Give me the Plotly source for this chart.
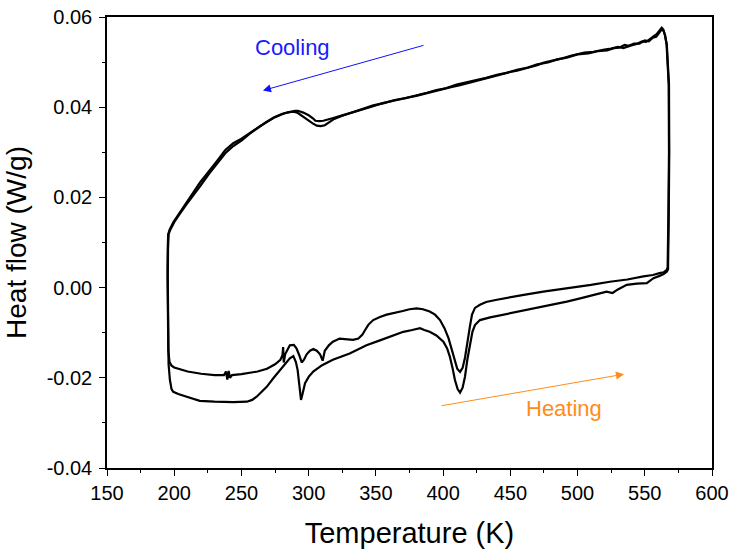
import plotly.graph_objects as go

# ---------------- data ----------------
# Cycle 1 heating (upper heating branch)
heat1_T = [195.0, 195.1, 195.6, 196.5, 198, 200, 205, 210, 220, 230, 237, 238.5, 239.5, 240.5,
           241.5, 243, 250, 256, 262, 269, 275, 279, 280.5, 281, 281.5, 282.5, 286, 289, 291,
           293, 294.8, 296.5, 298.5, 301, 303.5, 306, 308.5, 310.4, 312, 315, 318, 323, 328,
           333, 337, 340, 342, 344.5, 348, 353, 358, 363, 370, 375, 380.4, 385, 390, 394,
           397.7, 401, 404, 406.5, 408.8, 410.5, 412.6, 414.5, 416.3, 418, 420, 421.5, 423.7,
           427.4, 432, 440, 449.8, 460, 474.5, 487, 499.4, 510, 524, 537, 549, 556, 561, 564,
           566.3]
heat1_Q = [0.004, -0.008, -0.014, -0.0165, -0.0173, -0.0177, -0.0182, -0.0186, -0.0191, -0.0194,
           -0.0194, -0.0186, -0.0204, -0.0185, -0.0200, -0.0194, -0.0192, -0.0189, -0.0186,
           -0.0180, -0.0170, -0.0160, -0.0150, -0.0132, -0.0166, -0.0148, -0.0128, -0.0127,
           -0.0135, -0.0150, -0.0166, -0.0160, -0.0148, -0.0140, -0.0136, -0.0140, -0.0148,
           -0.0162, -0.0140, -0.0128, -0.0120, -0.0113, -0.0115, -0.0116, -0.0113, -0.0104,
           -0.0094, -0.0082, -0.0072, -0.0065, -0.0060, -0.0057, -0.0052, -0.0048, -0.0046,
           -0.0048, -0.0053, -0.0060, -0.0072, -0.0090, -0.0112, -0.0138, -0.0162, -0.0180,
           -0.0187, -0.0178, -0.0155, -0.0120, -0.0085, -0.0060, -0.0045, -0.0038, -0.0032,
           -0.0027, -0.0021, -0.0016, -0.0009, -0.0004, 0.0002, 0.0006, 0.0013, 0.0018, 0.0025,
           0.0028, 0.0032, 0.0034, 0.0039]

# Cycle 1 cooling (right edge upwards, then cooling branch to low T)
cool1_T = [567.0, 567.5, 568.0, 567.8, 567.2, 566.2, 565.0, 563.8, 562.6, 561.5, 560, 558.8, 557,
           555, 553.8, 551, 548, 544, 540, 536.6, 534, 530, 525, 520, 511.7, 505, 500, 495, 487,
           480, 475, 470, 462.2, 455, 450, 445, 437.4, 430, 425, 420, 412.6, 405, 400, 395,
           387.8, 380, 375, 370, 363, 355, 345.6, 338.2, 330, 325, 318.3, 314, 310.9, 308, 305,
           303.4, 300, 296, 292, 289.8, 286, 281.6, 275, 270, 263.8, 255, 250, 243.9, 238,
           231.6, 225, 219.2, 214, 209.3, 204, 199.3, 196.5, 195.5, 195.2]
cool1_Q = [0.0045, 0.015, 0.030, 0.045, 0.050, 0.054, 0.0560, 0.0572, 0.0576, 0.0572, 0.0565,
           0.0562, 0.0558, 0.0553, 0.0551, 0.0545, 0.0546, 0.0540, 0.0537, 0.0534, 0.0531,
           0.0534, 0.0530, 0.0528, 0.0523, 0.0521, 0.0518, 0.0514, 0.0507, 0.0502, 0.0499,
           0.0493, 0.0486, 0.0481, 0.0478, 0.0474, 0.0468, 0.0463, 0.0459, 0.0455, 0.0449,
           0.0444, 0.0440, 0.0437, 0.0431, 0.0425, 0.0422, 0.0419, 0.0415, 0.0409, 0.0400,
           0.0394, 0.0387, 0.0382, 0.0376, 0.0372, 0.0370, 0.0369, 0.0370, 0.0375, 0.0382,
           0.0388, 0.0392, 0.0392, 0.0390, 0.0386, 0.0378, 0.0369, 0.0358, 0.0340, 0.0330,
           0.0320, 0.0305, 0.0280, 0.0255, 0.0233, 0.0210, 0.0189, 0.0167, 0.0145, 0.0128,
           0.0118, 0.0090]

# Cycle 2 heating (lower heating branch)
heat2_T = [195.2, 195.3, 195.8, 196.8, 198, 199.3, 203, 209.3, 215, 219, 230, 244, 254, 258,
           261.3, 265, 268.8, 274, 278.7, 283, 286, 288.6, 290.5, 291.8, 293.2, 294.3, 295.5,
           297.3, 300, 303.4, 310, 318, 330.5, 338, 343, 353, 362, 370.4, 377, 382.8, 386, 390,
           395, 400.2, 403, 405, 407, 408.8, 410.8, 412.6, 414.5, 416.3, 418, 420, 421.8, 423.7,
           427.4, 435, 449.8, 462, 474.5, 483, 492, 502, 511.7, 517, 521.6, 526, 530, 536.6,
           544, 551.5, 556.5, 561, 564, 566.3]
heat2_Q = [0.002, -0.010, -0.017, -0.0205, -0.0225, -0.0231, -0.0236, -0.0242, -0.0248, -0.0251,
           -0.0253, -0.0254, -0.0253, -0.0249, -0.0242, -0.0232, -0.0220, -0.0200, -0.0183,
           -0.0168, -0.0157, -0.0152, -0.0165, -0.0183, -0.0220, -0.0249, -0.0235, -0.0212,
           -0.0198, -0.0186, -0.0172, -0.0160, -0.0146, -0.0135, -0.0128, -0.0117, -0.0107,
           -0.0098, -0.0094, -0.0090, -0.0094, -0.0098, -0.0106, -0.0120, -0.0135, -0.0153,
           -0.0178, -0.0205, -0.0225, -0.0233, -0.0222, -0.0197, -0.0160, -0.0124, -0.0098,
           -0.0083, -0.0072, -0.0066, -0.0057, -0.0050, -0.0042, -0.0038, -0.0031, -0.0024,
           -0.0016, -0.0013, -0.0009, -0.0012, -0.0004, 0.0006, 0.0009, 0.0010, 0.0021, 0.0026,
           0.0030, 0.0035]

# Cycle 2 cooling
cool2_T = [567.3, 567.8, 568.2, 568.0, 567.4, 566.4, 565.2, 564.0, 562.8, 561.6, 560, 558.5, 556,
           553, 550, 546, 542, 538, 535, 531, 527, 522, 515, 508, 500, 492, 485, 478, 470, 463,
           455, 447, 440, 432, 425, 417, 410, 402, 395, 388, 380, 372, 364, 356, 348, 340, 332,
           325, 319, 315, 312, 309, 306, 303, 299, 295, 292, 289, 285, 280, 274, 268, 262, 256,
           250, 244, 238, 232, 226, 220, 214, 209, 204, 200, 197, 195.8, 195.4]
cool2_Q = [0.0040, 0.015, 0.030, 0.045, 0.050, 0.0538, 0.0558, 0.0569, 0.0573, 0.0569, 0.0562,
           0.0556, 0.0554, 0.0546, 0.0548, 0.0541, 0.0541, 0.0536, 0.0538, 0.0532, 0.0531,
           0.0526, 0.0524, 0.0519, 0.0517, 0.0510, 0.0506, 0.0499, 0.0495, 0.0488, 0.0483,
           0.0476, 0.0472, 0.0465, 0.0460, 0.0454, 0.0450, 0.0442, 0.0438, 0.0432, 0.0426,
           0.0420, 0.0416, 0.0409, 0.0404, 0.0396, 0.0389, 0.0381, 0.0374, 0.0366, 0.0360,
           0.0358, 0.0359, 0.0364, 0.0372, 0.0380, 0.0387, 0.0390, 0.0389, 0.0385, 0.0377,
           0.0366, 0.0354, 0.0341, 0.0326, 0.0314, 0.0298, 0.0276, 0.0253, 0.0228, 0.0205,
           0.0184, 0.0163, 0.0145, 0.0128, 0.0118, 0.0085]

# Axis tick labels
x_ticks = [150, 200, 250, 300, 350, 400, 450, 500, 550, 600]
x_ticktext = ["150", "200", "250", "300", "350", "400", "450", "500", "550", "600"]
y_ticks = [-0.04, -0.02, 0.00, 0.02, 0.04, 0.06]
y_ticktext = ["-0.04", "-0.02", "0.00", "0.02", "0.04", "0.06"]

# ---------------- figure ----------------
FONT = "Liberation Sans, Arial, sans-serif"

fig = go.Figure()
for hT, hQ, cT, cQ in [(heat1_T, heat1_Q, cool1_T, cool1_Q),
                       (heat2_T, heat2_Q, cool2_T, cool2_Q)]:
    T = hT + cT + [hT[0]]
    Q = hQ + cQ + [hQ[0]]
    fig.add_trace(go.Scatter(x=T, y=Q, mode="lines",
                             line=dict(color="black", width=2.2),
                             showlegend=False, hoverinfo="skip"))

axis_common = dict(
    showgrid=False, zeroline=False, automargin=False,
    showline=True, linecolor="black", linewidth=1.5, mirror=True,
    ticks="outside", ticklen=6, tickwidth=1.3, tickcolor="black",
    tickfont=dict(family=FONT, size=20, color="black"),
)

fig.update_xaxes(range=[150, 600], tickmode="array", tickvals=x_ticks, ticktext=x_ticktext,
                 minor=dict(ticks="outside", ticklen=3.5, tickwidth=1.2, tickcolor="black", dtick=25,
                            tick0=150, showgrid=False),
                 title=dict(text="Temperature (K)", font=dict(family=FONT, size=29, color="black"),
                            standoff=20),
                 **axis_common)
fig.update_yaxes(range=[-0.04, 0.06], tickmode="array", tickvals=y_ticks, ticktext=y_ticktext,
                 ticklabelstandoff=3,
                 minor=dict(ticks="outside", ticklen=3.5, tickwidth=1.2, tickcolor="black", dtick=0.01,
                            tick0=-0.04, showgrid=False),
                 title=dict(text="Heat flow (W/g)", font=dict(family=FONT, size=28, color="black"),
                            standoff=12),
                 **axis_common)

# Annotations: arrows and labels
fig.add_annotation(x=266.0, y=0.0437, ax=386.5, ay=0.0538, xref="x", yref="y", axref="x", ayref="y",
                   text="", showarrow=True, arrowhead=2, arrowsize=1.6, arrowwidth=1,
                   arrowcolor="#1010ff")
fig.add_annotation(x=288.3, y=0.0533, text="Cooling", showarrow=False,
                   font=dict(family=FONT, size=22, color="#1a1aff"))
fig.add_annotation(x=534.5, y=-0.0192, ax=397.7, ay=-0.02625, xref="x", yref="y", axref="x", ayref="y",
                   text="", showarrow=True, arrowhead=2, arrowsize=1.6, arrowwidth=1,
                   arrowcolor="#ff8c1a")
fig.add_annotation(x=489.9, y=-0.0267, text="Heating", showarrow=False,
                   font=dict(family=FONT, size=22, color="#ff8c1a"))

fig.update_layout(
    width=734, height=555,
    margin=dict(l=107, r=22, t=17, b=87),
    paper_bgcolor="white", plot_bgcolor="white",
    font=dict(family=FONT, color="black"),
)

fig.write_html("out.html")
